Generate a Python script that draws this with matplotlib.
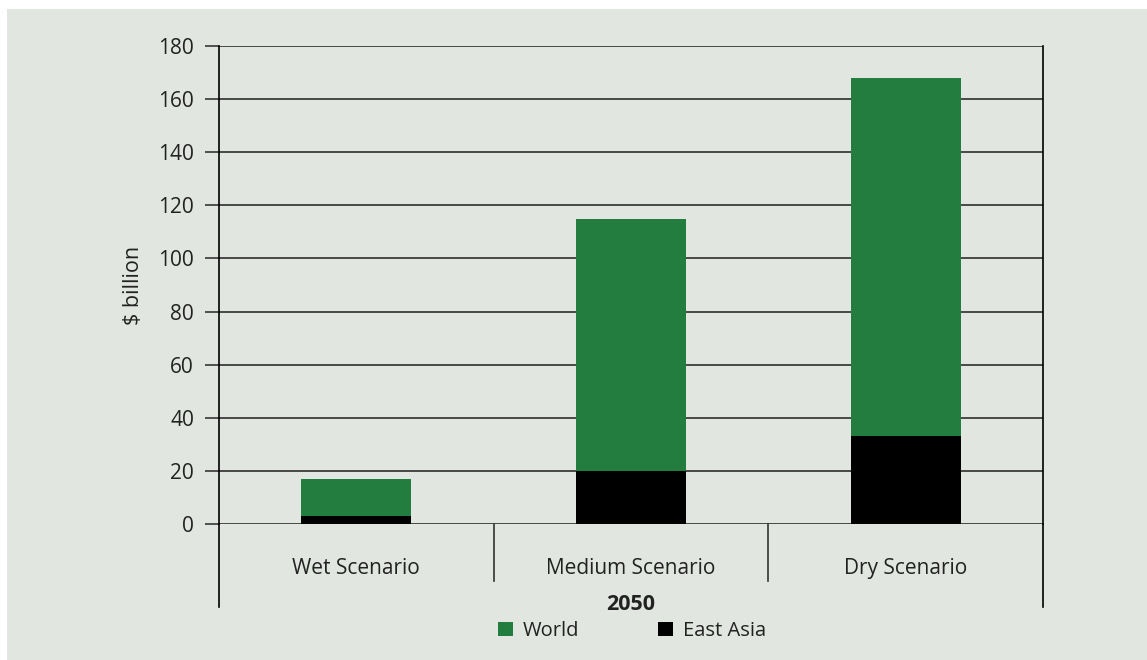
import matplotlib
matplotlib.use("Agg")
import matplotlib.pyplot as plt
from matplotlib.patches import Rectangle, Patch

categories = ["Wet Scenario", "Medium Scenario", "Dry Scenario"]
east_asia = [3, 20, 33]
world = [14, 95, 135]
yticks = [0, 20, 40, 60, 80, 100, 120, 140, 160, 180]
group_label = "2050"

plt.rcParams['font.family'] = ['Open Sans', 'DejaVu Sans']
txt = '#222222'
green = '#237d3e'
bg = '#e1e6e0'
fs = 15

W, H = 1147, 660
fig = plt.figure(figsize=(W / 100, H / 100), dpi=100, facecolor='white')
fig.patches.append(Rectangle((7 / W, 0), 1 - 7 / W, (H - 9) / H,
                             transform=fig.transFigure, facecolor=bg,
                             edgecolor='none', zorder=-10))

ax = fig.add_axes([219 / W, 136 / H, (1043 - 219) / W, (524 - 46) / H])
ax.set_facecolor('none')

x = list(range(len(categories)))
ax.bar(x, east_asia, width=0.4, color='black', zorder=3)
ax.bar(x, world, width=0.4, bottom=east_asia, color=green, zorder=3)

ax.set_xlim(-0.5, len(categories) - 0.5)
ax.set_ylim(0, 180)
ax.set_yticks(yticks)
ax.set_yticklabels([str(v) for v in yticks], fontsize=fs, color=txt)
ax.tick_params(axis='y', length=10, width=1.3, color='#444444', pad=8)
ax.set_xticks([])
for v in yticks:
    ax.axhline(v, color='#3c3c3c', lw=1.3, zorder=1)

for s in ['top', 'bottom']:
    ax.spines[s].set_visible(False)
for s in ['left', 'right']:
    ax.spines[s].set_color('black')
    ax.spines[s].set_linewidth(1.2)

ax.set_ylabel('$ billion', fontsize=15.5, color=txt, labelpad=10)

xt = ax.get_xaxis_transform()
# category separators
for i in range(len(categories) + 1):
    xpos = i - 0.5
    ylow = -0.174 if i in (0, len(categories)) else -0.119
    ax.plot([xpos, xpos], [0, ylow], transform=xt,
            color='#333333' if 0 < i < len(categories) else 'black',
            lw=1.2, clip_on=False)
for i, c in enumerate(categories):
    ax.text(i, -0.094, c, transform=xt, ha='center', va='center', fontsize=fs, color=txt)
ax.text((len(categories) - 1) / 2, -0.168, group_label, transform=xt, ha='center', va='center',
        fontsize=15.5, fontweight='bold', color=txt)

handles = [Patch(facecolor=green, label='World'), Patch(facecolor='black', label='East Asia')]
fig.legend(handles=handles, loc='center', bbox_to_anchor=(632 / W, 29 / H), ncol=2,
           frameon=False, fontsize=14.5, handlelength=0.75, handleheight=0.75,
           handletextpad=0.5, columnspacing=3.9, labelcolor=txt)

fig.savefig('out.png', dpi=100, facecolor='white')
